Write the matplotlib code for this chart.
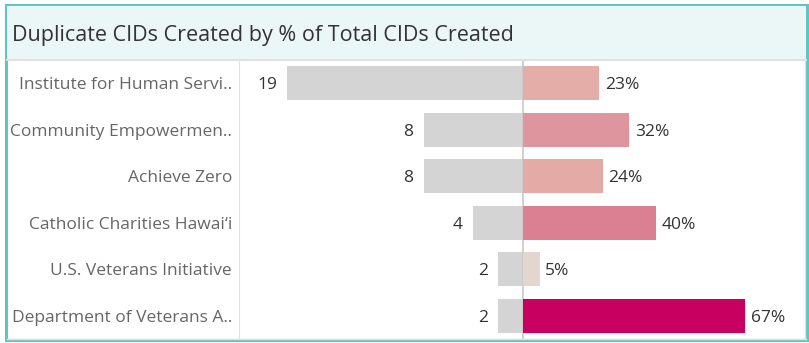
import matplotlib
matplotlib.use("Agg")
import matplotlib.pyplot as plt
from matplotlib.colors import LinearSegmentedColormap, Normalize
from matplotlib.patches import Rectangle

# donnees
organizations = [
    "Institute for Human Servi..",
    "Community Empowermen..",
    "Achieve Zero",
    "Catholic Charities Hawai\u2018i",
    "U.S. Veterans Initiative",
    "Department of Veterans A..",
]
duplicate_cids = [19, 8, 8, 4, 2, 2]
pct_of_total = [23, 32, 24, 40, 5, 67]

TITLE = "Duplicate CIDs Created by % of Total CIDs Created"

W, H = 809, 343
FONT = ["Open Sans", "DejaVu Sans"]
plt.rcParams["font.family"] = FONT

fig = plt.figure(figsize=(W / 100, H / 100), dpi=100)


def px_rect(x0, y0, x1, y1):
    # pixels (origine en haut a gauche) -> coordonnees figure
    return [x0 / W, 1 - y1 / H, (x1 - x0) / W, (y1 - y0) / H]


# cadre et fond du titre
fig.patches.append(Rectangle((6 / W, 1 - 340 / H), 801 / W, 335 / H, transform=fig.transFigure,
                             facecolor="white", edgecolor="#5fc5c3", linewidth=2.2, zorder=-2))
fig.patches.append(Rectangle((7 / W, 1 - 59 / H), 799 / W, 53 / H, transform=fig.transFigure,
                             facecolor="#ebf7f7", edgecolor="none", zorder=-1))
fig.text(12 / W, 1 - 33 / H, TITLE, fontsize=15.5, color="#333333",
         va="center_baseline", ha="left")

top, bottom = 60, 339
mid_x = 523
left_ax = fig.add_axes(px_rect(239, top, mid_x, bottom))
right_ax = fig.add_axes(px_rect(mid_x, top, 805, bottom))

y = list(range(len(organizations)))
bar_h = 0.73

left_ax.barh(y, duplicate_cids, height=bar_h, color="#d4d4d4")
left_ax.set_xlim(22.9, 0)
for yi, v in zip(y, duplicate_cids):
    left_ax.annotate(str(v), (v, yi), xytext=(-7.5, 0), textcoords="offset points",
                     ha="right", va="center_baseline", fontsize=12.5, color="#333333")

cmap = LinearSegmentedColormap.from_list(
    "pinks", [(0, "#e3d6cd"), (0.29, "#e4ada7"), (0.56, "#db8194"), (1, "#c8005f")])
norm = Normalize(min(pct_of_total), max(pct_of_total))
right_ax.barh(y, pct_of_total, height=bar_h, color=[cmap(norm(v)) for v in pct_of_total])
right_ax.set_xlim(0, 85)
for yi, v in zip(y, pct_of_total):
    right_ax.annotate(f"{v}%", (v, yi), xytext=(4, 0), textcoords="offset points",
                      ha="left", va="center_baseline", fontsize=12.5, color="#333333")

for ax in (left_ax, right_ax):
    ax.set_ylim(len(organizations) - 0.5, -0.5)
    ax.set_xticks([])
    ax.set_yticks([])
    for s in ax.spines.values():
        s.set_visible(False)
    ax.patch.set_alpha(0)

left_ax.spines["right"].set_visible(True)
left_ax.spines["right"].set_color("#c8c8c8")
left_ax.spines["right"].set_linewidth(1.2)
left_ax.spines["left"].set_visible(True)
left_ax.spines["left"].set_color("#e0e0e0")

# libelles des organisations
for yi, name in zip(y, organizations):
    left_ax.annotate(name, (0, yi), xycoords=("axes fraction", "data"), xytext=(-5, 0),
                     textcoords="offset points", ha="right", va="center_baseline",
                     fontsize=12.5, color="#666666")

# lignes grises du panneau
fig.add_artist(plt.Line2D([7 / W, 806 / W], [1 - 59.5 / H] * 2, color="#e0e0e0", lw=1.5))
fig.add_artist(plt.Line2D([7 / W, 806 / W], [1 - 339 / H] * 2, color="#e0e0e0", lw=1))
fig.add_artist(plt.Line2D([805 / W] * 2, [1 - 60 / H, 1 - 339 / H], color="#e0e0e0", lw=1))

fig.savefig("out.png", dpi=100)
